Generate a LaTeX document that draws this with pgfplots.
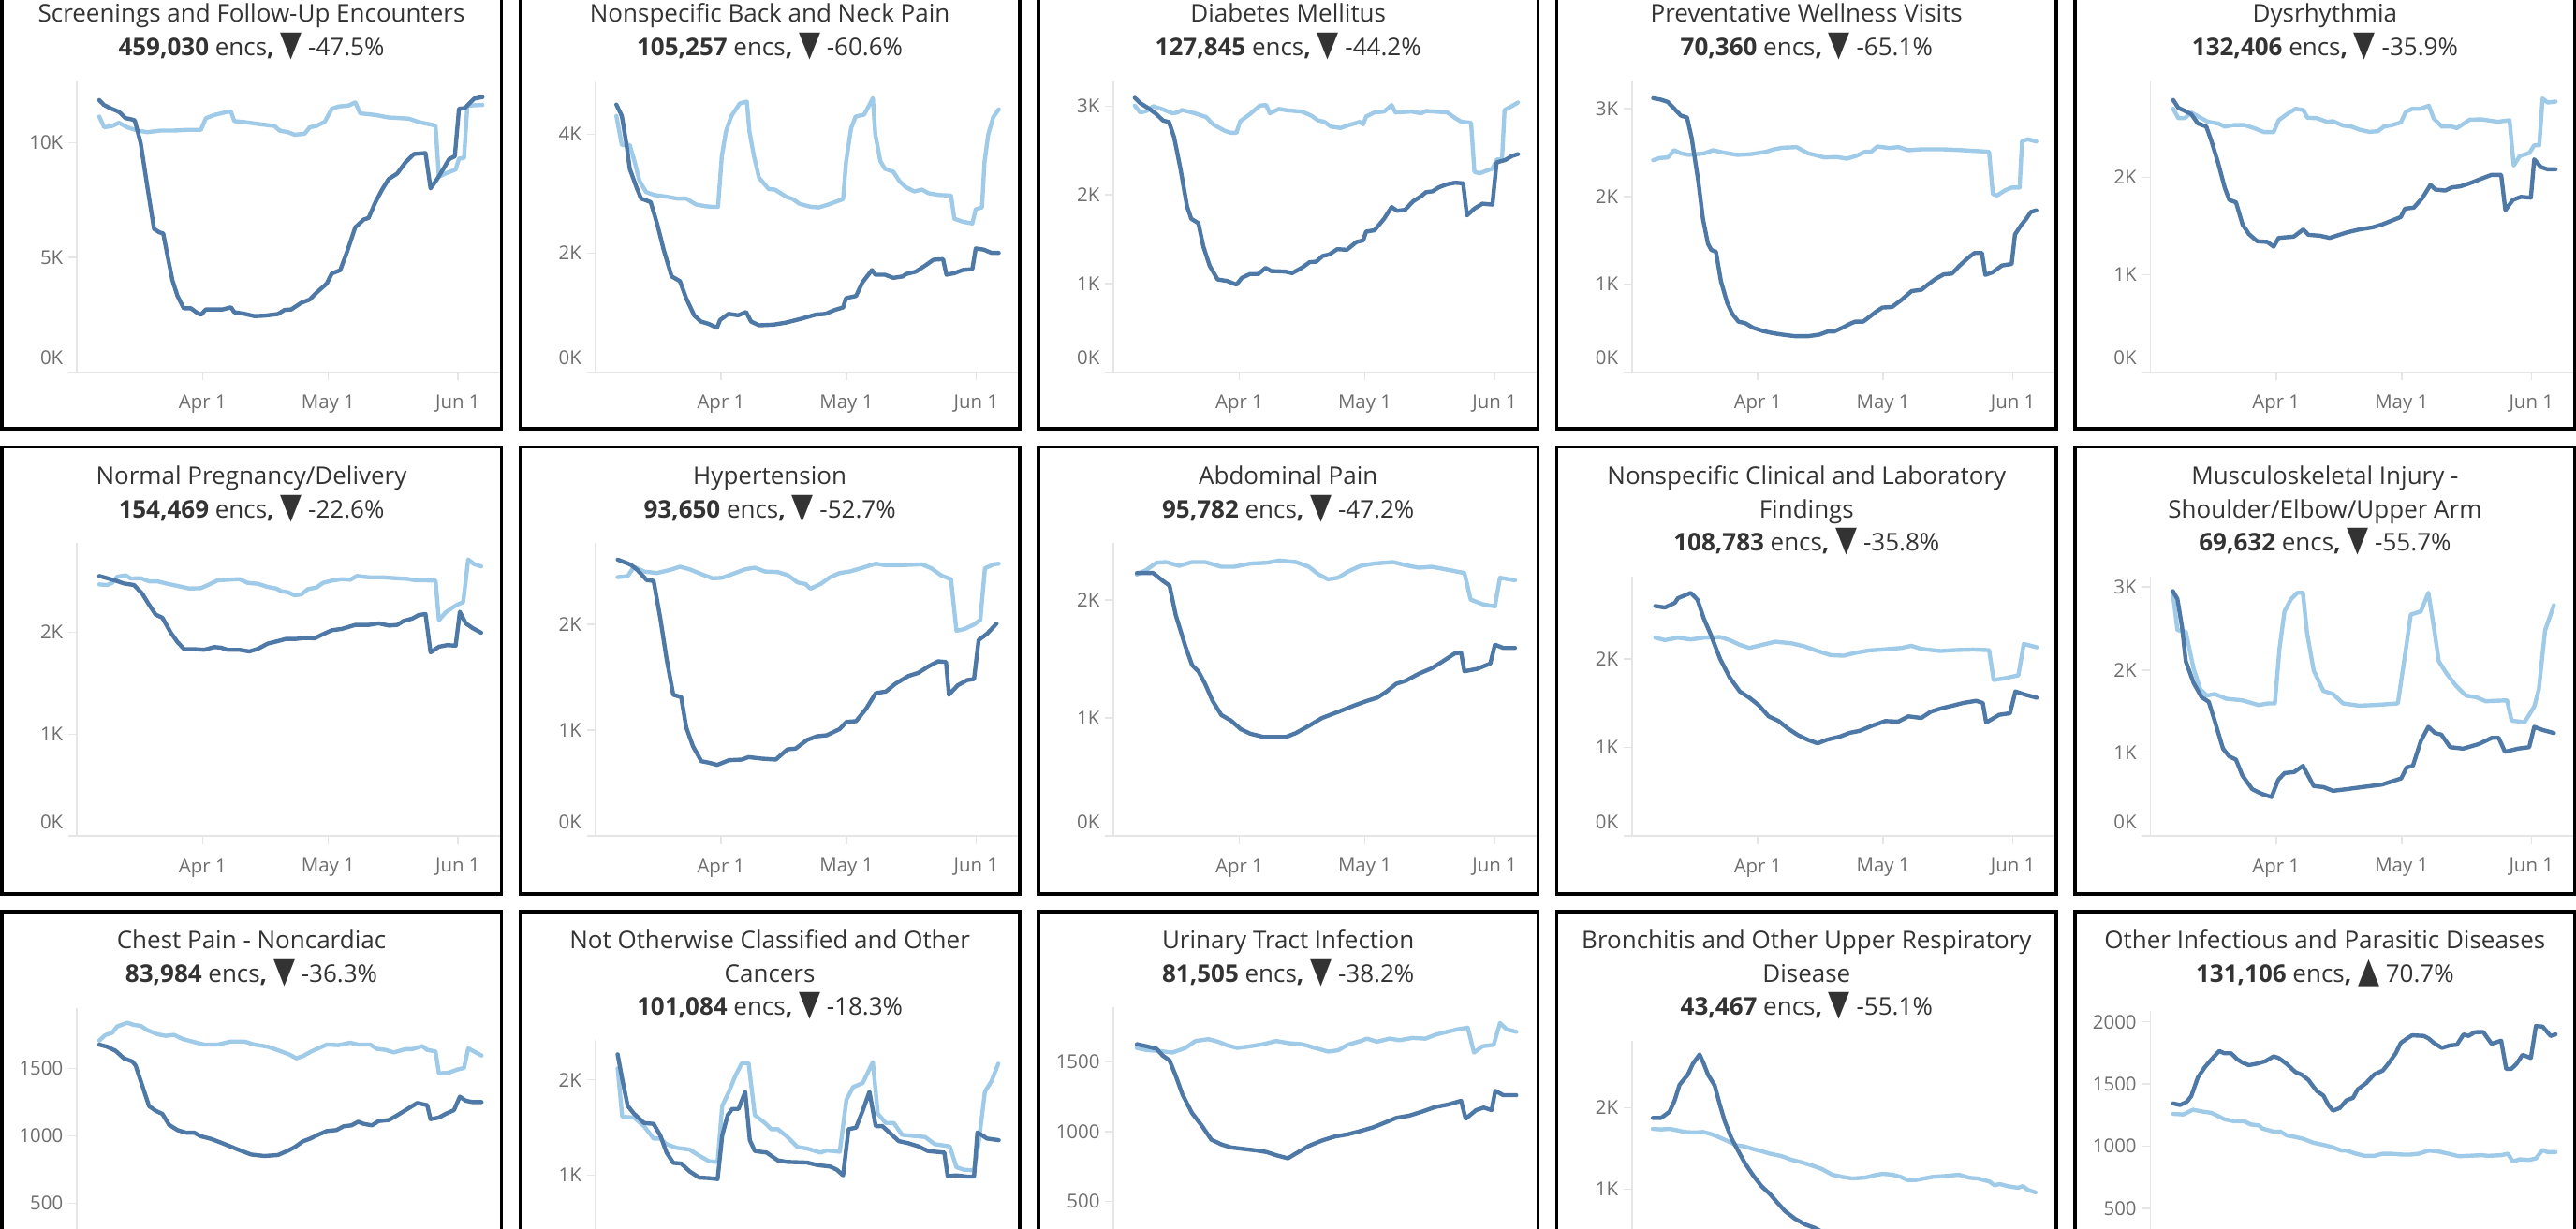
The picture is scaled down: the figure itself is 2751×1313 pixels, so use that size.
\documentclass[border=0pt]{standalone}
\usepackage{graphicx}
\usepackage{fontspec}
\setmainfont{Open Sans}
\newfontfamily\symfont{DejaVu Sans}
\usepackage{pgfplots}
\pgfplotsset{compat=1.18}
\definecolor{dk}{HTML}{4E79A7}
\definecolor{lt}{HTML}{A0CBE8}
\definecolor{axg}{HTML}{E6E6E6}
\definecolor{tkg}{HTML}{6E6E6E}
\definecolor{ttl}{HTML}{333333}
\newcommand\mydntri{\scalebox{1.15}[1.45]{\symfont ▼}}
\newcommand\myuptri{\scalebox{1.15}[1.45]{\symfont ▲}}
\newcommand\zk{\raisebox{3.75pt}[3.75pt][0pt]{0K}}
\newcommand\ttlfont{\fontsize{6.5}{7.8}\selectfont}
\pgfplotsset{panel/.style={scale only axis, width=112.875pt, xmin=-30.07, xmax=71, ymin=0,
  axis x line*=bottom, axis y line*=left,
  axis line style={draw=axg, line width=0.375pt, -},
  x axis line style={shorten <=-2.25pt},
  xtick={0,30,61}, xticklabels={Apr 1,May 1,Jun 1},
  major tick length=2.25pt, tick align=outside,
  tick style={draw=axg, line width=0.375pt},
  ticklabel style={font=\fontsize{5.1}{5.1}\selectfont, text=tkg, inner sep=0pt},
  xticklabel style={yshift=-3.6pt}, yticklabel style={xshift=-1.25pt},
  clip=false, anchor=south west,
  every axis plot/.append style={line width=1.1pt, line join=round, line cap=round, no markers}},
  lastrow/.style={xticklabels={}}}
\begin{document}
\begin{tikzpicture}[x=0.25pt,y=0.25pt]
\useasboundingbox (0,0) rectangle (2751,-1313);
\clip (0,0) rectangle (2751,-1313);
\foreach \cx in {0,553.6,1107.2,1660.8,2214.4}{
  \foreach \ry in {-21,475.7,972.3}{
    \draw[line width=0.875pt] ({\cx+1.75},{-(\ry)-1.75}) rectangle ({\cx+535.25},{-(\ry)-479.25});
  }}
% ---------- P1
\begin{axis}[panel, at={(20.5pt,-99.375pt)}, height=77.625pt, ymax=12.673, ytick={0,5,10}, yticklabels={\zk,5K,10K}]
\addplot[lt] coordinates {(-24.7,11.14)(-23.5,10.67)(-21.6,10.73)(-20,10.87)(-18,10.67)(-15.6,10.53)(-13.2,10.46)(-10,10.53)(-6.8,10.53)(-3.6,10.56)(-0.4,10.56)(0.8,11.07)(2.8,11.21)(6,11.35)(6.8,11.35)(7.6,10.94)(10,10.9)(14,10.8)(17.2,10.73)(18.4,10.53)(20.4,10.46)(22,10.35)(24.4,10.39)(25.6,10.67)(27.2,10.73)(29.2,10.91)(30.9,11.48)(32.5,11.58)(34.9,11.62)(36.5,11.76)(37.7,11.28)(41.3,11.21)(44.5,11.1)(49.3,11.05)(51.7,10.9)(54.9,10.78)(55.7,10.73)(56.5,8.52)(58.5,8.69)(60.5,8.83)(61.3,9.31)(62.5,9.33)(63.3,11.62)(66.9,11.65)};
\addplot[dk] coordinates {(-24.7,11.86)(-23.6,11.65)(-22,11.5)(-20,11.35)(-18.4,11.07)(-17.2,11.03)(-16.2,10.97)(-14.8,9.99)(-13.2,8.08)(-11.6,6.24)(-10.4,6.1)(-9.4,6.04)(-8.4,5.09)(-7.2,4.0)(-6,3.32)(-4.5,2.78)(-2.8,2.78)(-1.2,2.57)(-0.4,2.5)(0.8,2.73)(2.8,2.73)(4.8,2.73)(6.8,2.82)(7.6,2.61)(10,2.54)(12.4,2.44)(14.8,2.46)(18,2.53)(19.6,2.71)(21.2,2.73)(23.6,3.02)(25.6,3.16)(27.6,3.52)(29.7,3.86)(30.9,4.3)(32.9,4.44)(34.5,5.22)(36.5,6.31)(38.5,6.65)(39.7,6.72)(41.3,7.4)(42.9,7.95)(44.5,8.42)(46.5,8.65)(48.5,9.14)(50.5,9.51)(53.3,9.55)(54.5,8.01)(56.1,8.42)(57.7,8.9)(58.9,9.28)(60.3,9.41)(61.3,11.48)(62.7,11.51)(64.9,11.92)(66.9,11.99)};
\end{axis}
% ---------- P2
\begin{axis}[panel, at={(158.9pt,-99.375pt)}, height=77.625pt, ymax=4.890, ytick={0,2,4}, yticklabels={\zk,2K,4K}]
\addplot[lt] coordinates {(-25,4.31)(-23.7,3.82)(-21.8,3.82)(-20.6,3.53)(-19.5,3.22)(-17.9,3.03)(-16,2.98)(-12.9,2.95)(-10.6,2.92)(-8.3,2.92)(-6,2.82)(-3.6,2.79)(-2.1,2.78)(-0.7,2.78)(0.2,3.63)(1.2,4.05)(2.5,4.31)(4.5,4.52)(6.2,4.55)(6.8,4.05)(7.9,3.63)(9.1,3.27)(11.4,3.08)(12.9,3.07)(15.6,2.95)(17.2,2.91)(18.8,2.83)(21.5,2.78)(23.4,2.77)(25.7,2.82)(27.6,2.87)(29.2,2.91)(29.9,3.53)(31.1,4.1)(32.2,4.30)(34.2,4.33)(35.3,4.47)(36.3,4.61)(36.9,4.0)(38.1,3.55)(39.2,3.42)(41.2,3.37)(42.7,3.21)(44.2,3.11)(46.2,3.04)(48.1,3.07)(49.6,3.01)(52,2.98)(55,2.97)(55.8,2.58)(57.8,2.53)(60.1,2.50)(60.9,2.74)(62.4,2.77)(63,3.53)(63.9,4.0)(65.1,4.29)(66.4,4.42)};
\addplot[dk] coordinates {(-25,4.50)(-23.7,4.31)(-22.6,3.84)(-21.8,3.42)(-20.2,3.11)(-19.1,2.92)(-16.8,2.86)(-15.2,2.48)(-13.7,2.06)(-11.8,1.61)(-9.8,1.53)(-8.3,1.24)(-6.4,0.955)(-4.8,0.85)(-2.9,0.81)(-0.95,0.745)(-0.2,0.877)(1.8,0.98)(4.1,0.955)(6,1.01)(7.2,0.85)(9.1,0.787)(12.6,0.798)(15.7,0.835)(19.5,0.903)(22.6,0.966)(25,0.98)(27.2,1.045)(29.2,1.087)(29.9,1.244)(32.3,1.28)(33.8,1.507)(36.1,1.717)(36.9,1.638)(39.2,1.638)(41.2,1.585)(43.5,1.61)(44.2,1.648)(46.6,1.69)(48.9,1.795)(50.8,1.89)(53.1,1.90)(53.9,1.638)(55.8,1.664)(57.8,1.717)(60.1,1.732)(60.9,2.08)(62.8,2.06)(64.7,2.005)(66.4,2.005)};
\end{axis}
% ---------- P3
\begin{axis}[panel, at={(297.3pt,-99.375pt)}, height=77.625pt, ymax=3.280, ytick={0,1,2,3}, yticklabels={\zk,1K,2K,3K}]
\addplot[lt] coordinates {(-25,3.007)(-23.7,2.93)(-22.2,2.947)(-20.6,3.0)(-18.3,2.965)(-16,2.92)(-14.8,2.93)(-13.7,2.958)(-10.6,2.92)(-7.9,2.877)(-6.3,2.796)(-3.6,2.725)(-2.1,2.70)(-0.7,2.70)(0.2,2.83)(2.5,2.91)(4.9,3.007)(6.4,3.014)(7.3,2.92)(9.5,2.97)(11.4,2.954)(14.9,2.94)(17.2,2.894)(18.8,2.84)(20.3,2.824)(21.9,2.77)(24.2,2.754)(25.7,2.78)(27.6,2.806)(28.8,2.824)(29.6,2.796)(30.3,2.884)(32.3,2.93)(34.6,2.94)(36.4,3.014)(37.3,2.93)(41.2,2.94)(43.5,2.92)(44.6,2.947)(49.7,2.93)(51.6,2.866)(53.1,2.824)(55.4,2.813)(56.2,2.26)(57.4,2.243)(60.5,2.296)(61.6,2.40)(62.8,2.40)(63.4,2.958)(65.1,3.0)(66.6,3.042)};
\addplot[dk] coordinates {(-25,3.095)(-23.7,3.035)(-21.8,2.98)(-19.8,2.91)(-18.3,2.84)(-16.8,2.82)(-15.6,2.65)(-14.1,2.30)(-12.5,1.87)(-11.5,1.73)(-9.8,1.68)(-8.6,1.415)(-7.1,1.20)(-5.2,1.045)(-2.9,1.028)(-0.7,0.986)(0.6,1.063)(2.5,1.106)(4.5,1.106)(6.3,1.176)(7.6,1.14)(11,1.134)(12.6,1.116)(14.9,1.176)(16.8,1.24)(18.4,1.246)(19.9,1.31)(21.5,1.327)(23.4,1.387)(25.7,1.38)(28,1.468)(29.6,1.486)(30.3,1.585)(32.3,1.60)(34.6,1.73)(36.4,1.863)(37.7,1.82)(39.6,1.83)(41.5,1.926)(43.5,1.986)(44.6,2.03)(46.2,2.04)(47.7,2.085)(49.7,2.12)(51.6,2.137)(53.5,2.13)(54.4,1.768)(56.2,1.845)(58.1,1.90)(60.5,1.89)(61.5,2.366)(63.6,2.394)(65.1,2.437)(66.6,2.46)};
\end{axis}
% ---------- P4
\begin{axis}[panel, at={(435.7pt,-99.375pt)}, height=77.625pt, ymax=3.308, ytick={0,1,2,3}, yticklabels={\zk,1K,2K,3K}]
\addplot[lt] coordinates {(-25,2.411)(-23.5,2.436)(-21.5,2.443)(-20,2.525)(-18.4,2.49)(-16.5,2.472)(-15,2.479)(-12.7,2.49)(-10.7,2.525)(-8,2.496)(-4.9,2.472)(-1.9,2.479)(2,2.507)(3.6,2.532)(5.9,2.553)(9.3,2.56)(12,2.49)(13.6,2.472)(15.9,2.443)(19,2.447)(21.3,2.429)(23.6,2.461)(25.6,2.507)(27.1,2.507)(28.6,2.567)(31.4,2.55)(33.7,2.56)(36,2.525)(39.1,2.535)(44.5,2.535)(49.1,2.525)(53,2.514)(55.3,2.507)(56.2,2.028)(57.2,2.01)(59.2,2.07)(60.7,2.10)(62.6,2.10)(63.2,2.63)(64.6,2.649)(66.6,2.624)};
\addplot[dk] coordinates {(-25,3.117)(-23.1,3.10)(-21.5,3.074)(-20,3.0)(-18.4,2.92)(-16.9,2.897)(-15.8,2.667)(-14.2,2.17)(-13.1,1.745)(-11.9,1.46)(-11.1,1.39)(-10,1.37)(-8.8,1.035)(-7.3,0.787)(-6.1,0.663)(-4.6,0.574)(-3,0.557)(-1.1,0.504)(1.2,0.468)(3.6,0.443)(5.9,0.426)(9,0.408)(12,0.408)(14.7,0.426)(16.7,0.461)(18.2,0.461)(20.2,0.504)(22.1,0.55)(23.3,0.574)(25.2,0.574)(26.7,0.628)(28.3,0.688)(29.8,0.734)(32.1,0.741)(34.4,0.823)(36.8,0.922)(39.1,0.936)(40.6,0.993)(42.5,1.06)(44.5,1.113)(46.4,1.12)(48.3,1.213)(50.3,1.30)(51.8,1.355)(53.6,1.355)(54.4,1.106)(56.1,1.135)(58.4,1.213)(60.7,1.23)(61.5,1.567)(63,1.674)(64.2,1.745)(65.3,1.823)(66.6,1.84)};
\end{axis}
% ---------- P5
\begin{axis}[panel, at={(574.1pt,-99.375pt)}, height=77.625pt, ymax=2.986, ytick={0,1,2}, yticklabels={\zk,1K,2K}]
\addplot[lt] coordinates {(-24.6,2.705)(-23.4,2.609)(-21.8,2.609)(-20.3,2.667)(-17.9,2.609)(-16.3,2.571)(-13.9,2.554)(-12.3,2.522)(-10,2.538)(-7.6,2.538)(-5.3,2.506)(-2.9,2.465)(-0.6,2.465)(0.6,2.587)(2.6,2.65)(4.6,2.705)(6.5,2.692)(7.5,2.612)(9.7,2.609)(12.1,2.571)(13.6,2.577)(16,2.532)(18,2.522)(19.9,2.49)(22.3,2.468)(24.3,2.474)(25.8,2.522)(27.8,2.538)(29.8,2.564)(31,2.673)(32.5,2.705)(34.5,2.705)(36.5,2.737)(37.7,2.603)(39.6,2.522)(42,2.522)(43.2,2.506)(46.3,2.593)(49.1,2.596)(53,2.571)(55.8,2.587)(56.8,2.122)(58.2,2.218)(60.5,2.25)(61.7,2.33)(62.9,2.33)(63.7,2.811)(64.9,2.769)(66.8,2.779)};
\addplot[dk] coordinates {(-24.6,2.795)(-23.4,2.715)(-21.8,2.683)(-20.3,2.65)(-18.7,2.554)(-16.7,2.522)(-15.5,2.378)(-13.9,2.154)(-12.3,1.897)(-11.2,1.769)(-9.6,1.744)(-8,1.513)(-6.5,1.417)(-4.5,1.343)(-2.1,1.337)(-0.6,1.288)(0.6,1.378)(4.2,1.391)(6.5,1.465)(7.7,1.41)(10.5,1.40)(12.8,1.378)(16.8,1.433)(19.9,1.465)(23.1,1.487)(25.5,1.519)(27,1.545)(29.8,1.593)(30.8,1.679)(32.9,1.689)(34.9,1.785)(36.9,1.923)(38.1,1.875)(40.4,1.865)(42,1.897)(44,1.907)(46.7,1.946)(49.1,1.987)(51.5,2.026)(53.8,2.026)(54.8,1.663)(56.6,1.769)(58.5,1.80)(60.9,1.792)(61.7,2.186)(63.3,2.106)(64.9,2.083)(66.8,2.083)};
\end{axis}
% ---------- P6
\begin{axis}[panel, at={(20.5pt,-223.3pt)}, height=78.25pt, ymax=2.877, ytick={0,1,2}, yticklabels={\zk,1K,2K}]
\addplot[lt] coordinates {(-24.7,2.471)(-22.8,2.465)(-21.6,2.486)(-20.4,2.547)(-18.4,2.56)(-17.2,2.529)(-14.8,2.532)(-12.8,2.501)(-10.8,2.501)(-8.4,2.477)(-6,2.456)(-3.2,2.431)(-0.4,2.434)(1.6,2.471)(3.6,2.511)(6,2.517)(8.8,2.523)(10.8,2.486)(13.2,2.477)(15.6,2.446)(17.6,2.431)(18.8,2.404)(20.4,2.394)(22,2.364)(23.6,2.373)(25.2,2.425)(27.2,2.44)(28.8,2.486)(30.9,2.508)(33.3,2.523)(35.3,2.517)(36.9,2.554)(39.7,2.541)(42.9,2.541)(46.1,2.532)(48.9,2.526)(50.9,2.511)(53.3,2.511)(55.7,2.508)(56.5,2.119)(58.1,2.196)(59.7,2.242)(60.9,2.272)(62.3,2.297)(63.5,2.716)(64.9,2.67)(66.6,2.648)};
\addplot[dk] coordinates {(-24.7,2.554)(-22.8,2.532)(-20.8,2.508)(-18.8,2.48)(-16.4,2.465)(-14.4,2.379)(-12.8,2.272)(-11.2,2.174)(-9.6,2.144)(-7.6,1.997)(-6,1.905)(-4.4,1.835)(-2,1.835)(0.4,1.829)(2.8,1.856)(4.4,1.85)(6,1.829)(8.8,1.829)(11.2,1.813)(13.2,1.838)(15.6,1.89)(18,1.914)(20,1.936)(22.4,1.936)(24.4,1.945)(26.8,1.942)(28.8,1.982)(30.9,2.021)(33.3,2.034)(36.5,2.073)(39.7,2.073)(42.1,2.089)(44.5,2.067)(46.5,2.073)(48.1,2.113)(50.1,2.135)(51.7,2.171)(53.3,2.18)(54.5,1.804)(56.5,1.859)(58.5,1.875)(60.5,1.869)(61.5,2.202)(62.9,2.089)(64.5,2.043)(66.6,1.997)};
\end{axis}
% ---------- P7
\begin{axis}[panel, at={(158.9pt,-223.3pt)}, height=78.25pt, ymax=2.770, ytick={0,1,2}, yticklabels={\zk,1K,2K}]
\addplot[lt] coordinates {(-24.7,2.448)(-22.3,2.457)(-20.8,2.546)(-18.4,2.501)(-15.3,2.487)(-12.2,2.516)(-9.8,2.546)(-7.5,2.522)(-4.4,2.472)(-2,2.437)(0.3,2.442)(3.4,2.487)(5.8,2.522)(8.1,2.537)(10.5,2.501)(13.6,2.496)(16,2.466)(18.3,2.398)(20.2,2.383)(21.4,2.339)(23.8,2.383)(26.1,2.448)(28.4,2.487)(30.8,2.501)(33.9,2.537)(37,2.575)(39.4,2.56)(42.5,2.56)(48,2.569)(50.3,2.531)(52.7,2.463)(55,2.428)(56.3,1.941)(58.1,1.956)(60.5,2.0)(62,2.044)(63.1,2.531)(65.2,2.569)(66.4,2.575)};
\addplot[dk] coordinates {(-24.7,2.614)(-21.6,2.566)(-20,2.516)(-17.7,2.419)(-16.1,2.413)(-14.5,2.059)(-13,1.676)(-11.4,1.336)(-9.5,1.313)(-8.3,1.027)(-6.7,0.85)(-4.7,0.708)(-2.8,0.693)(-0.9,0.673)(1.9,0.717)(5,0.723)(6.6,0.746)(9.7,0.732)(13.1,0.723)(15.9,0.82)(17.8,0.826)(20.6,0.909)(23,0.944)(25.3,0.953)(28.4,1.012)(30,1.08)(32.3,1.086)(34.7,1.204)(37,1.351)(39.4,1.366)(41.7,1.44)(44.8,1.513)(47.2,1.543)(49.5,1.602)(51.9,1.652)(53.8,1.646)(54.5,1.336)(56.6,1.425)(58.9,1.475)(60.5,1.484)(61.6,1.853)(63.6,1.912)(65.9,2.009)};
\end{axis}
% ---------- P8
\begin{axis}[panel, at={(297.3pt,-223.3pt)}, height=78.25pt, ymax=2.484, ytick={0,1,2}, yticklabels={\zk,1K,2K}]
\addplot[lt] coordinates {(-24.5,2.217)(-22.2,2.257)(-19.8,2.317)(-17.5,2.323)(-14.4,2.291)(-11.3,2.323)(-8.2,2.323)(-4.3,2.283)(-1.2,2.283)(2.6,2.31)(6.5,2.317)(9.6,2.336)(13.5,2.323)(16.6,2.283)(19,2.217)(21.2,2.177)(23.6,2.19)(26,2.243)(29,2.291)(32.1,2.31)(36.7,2.323)(39.8,2.296)(42.9,2.275)(46,2.283)(49.9,2.257)(53.8,2.23)(55.3,2.005)(58.1,1.966)(61.1,1.947)(62.3,2.19)(65.9,2.169)};
\addplot[dk] coordinates {(-24.5,2.23)(-20.6,2.23)(-18.3,2.164)(-16.7,2.124)(-15.2,1.873)(-12.9,1.608)(-11.3,1.45)(-9.8,1.397)(-8.2,1.291)(-6.4,1.146)(-4.3,1.026)(-2,0.979)(0.3,0.907)(2.6,0.868)(5.7,0.841)(11.2,0.841)(13.5,0.873)(16.6,0.934)(19.7,1.0)(23.6,1.053)(27.4,1.106)(30.5,1.146)(32.9,1.172)(35.2,1.225)(37.5,1.291)(39.8,1.317)(42.9,1.376)(46,1.423)(48.4,1.476)(51.5,1.548)(53,1.556)(53.8,1.397)(56.9,1.418)(60,1.463)(61.1,1.622)(63.1,1.595)(65.9,1.595)};
\end{axis}
% ---------- P9
\begin{axis}[panel, at={(435.7pt,-223.3pt)}, height=69.225pt, ymax=2.925, ytick={0,1,2}, yticklabels={\zk,1K,2K}]
\addplot[lt] coordinates {(-24.5,2.239)(-22.2,2.211)(-19.1,2.239)(-16,2.218)(-12.9,2.239)(-9,2.246)(-6.7,2.211)(-4.3,2.158)(-2,2.123)(1.1,2.158)(4.2,2.193)(8.1,2.175)(11.2,2.14)(14.3,2.088)(17.4,2.042)(20.5,2.035)(23.6,2.07)(26.7,2.095)(29.8,2.105)(34.4,2.123)(36.7,2.147)(39.1,2.112)(43.7,2.088)(46.8,2.098)(51.5,2.105)(55.3,2.098)(56.4,1.761)(59.2,1.782)(62.3,1.814)(63.6,2.168)(66.7,2.13)};
\addplot[dk] coordinates {(-24.5,2.596)(-22.2,2.579)(-19.8,2.632)(-19.1,2.684)(-16,2.744)(-14.4,2.667)(-12.9,2.456)(-11.3,2.281)(-9,2.0)(-6.7,1.789)(-4.3,1.632)(-2,1.561)(0.3,1.474)(2.6,1.351)(5,1.298)(7.3,1.211)(9.6,1.14)(11.9,1.088)(14.3,1.046)(16.6,1.088)(19.7,1.123)(22,1.165)(24.3,1.186)(27.4,1.246)(30.5,1.298)(33.6,1.291)(36,1.351)(39.1,1.333)(41.4,1.404)(43.7,1.439)(46.8,1.474)(49.1,1.502)(52.2,1.526)(53.8,1.502)(54.6,1.281)(57.7,1.368)(60.3,1.386)(61.6,1.632)(63.9,1.596)(66.7,1.561)};
\end{axis}
% ---------- P10
\begin{axis}[panel, at={(574.1pt,-223.3pt)}, height=69.225pt, ymax=3.123, ytick={0,1,2,3}, yticklabels={\zk,1K,2K,3K}]
\addplot[lt] coordinates {(-24.7,2.932)(-23.6,2.481)(-21.6,2.462)(-19.7,2.011)(-18.1,1.767)(-16.6,1.692)(-14.7,1.711)(-11.9,1.654)(-8.1,1.635)(-4.2,1.579)(-1.9,1.598)(-0.3,1.598)(0.8,2.256)(2,2.707)(3.6,2.857)(5.1,2.932)(6.4,2.932)(7.4,2.444)(9,1.992)(11.3,1.748)(13.6,1.711)(16,1.598)(19.8,1.571)(23.7,1.579)(29.1,1.598)(30.7,2.143)(32.2,2.669)(34.6,2.707)(36.4,2.932)(37.7,2.519)(38.9,2.105)(40.8,1.955)(43.1,1.805)(45.4,1.692)(47.8,1.673)(50.1,1.624)(55.2,1.635)(56.3,1.391)(59.4,1.372)(61.7,1.56)(62.8,1.767)(64.3,2.481)(66.4,2.782)};
\addplot[dk] coordinates {(-24.7,2.951)(-23.6,2.857)(-22.5,2.519)(-21.6,2.105)(-19.7,1.842)(-17.8,1.673)(-16.1,1.617)(-14.7,1.391)(-12.7,1.053)(-11.2,0.959)(-9.6,0.921)(-8.1,0.733)(-5.7,0.564)(-3.4,0.508)(-1.1,0.47)(0.5,0.677)(2,0.759)(4.3,0.771)(6.4,0.846)(9,0.602)(11.3,0.59)(13.6,0.545)(16.7,0.564)(20.6,0.59)(25.3,0.62)(27.6,0.658)(29.9,0.695)(31.2,0.827)(32.7,0.846)(34.6,1.147)(36.4,1.316)(38,1.241)(39.5,1.222)(41.6,1.071)(44.7,1.053)(48.5,1.109)(51.6,1.184)(53.2,1.184)(54.7,1.015)(57.8,1.053)(60.5,1.071)(61.7,1.316)(63.7,1.278)(66.4,1.241)};
\end{axis}
% ---------- P11
\begin{axis}[panel, lastrow, at={(20.5pt,-339.425pt)}, height=70.25pt, ymax=1951, ytick={500,1000,1500}, yticklabels={500,1000,1500}]
\addplot[lt] coordinates {(-24.7,1708)(-23.3,1748)(-21.6,1766)(-20.4,1813)(-18,1840)(-16.4,1824)(-14.8,1817)(-13.2,1785)(-10.8,1755)(-8.8,1743)(-6.8,1750)(-4.8,1720)(-2,1697)(0.4,1678)(3.6,1678)(6.8,1701)(10,1701)(12.4,1678)(15.6,1662)(18.4,1632)(20.8,1604)(22.4,1576)(24,1593)(26,1627)(28,1655)(29.7,1678)(32.5,1674)(35.3,1692)(37.2,1678)(40.1,1678)(41.7,1646)(43.7,1639)(45.7,1620)(48.5,1644)(50.1,1644)(52.5,1667)(53.7,1639)(55.7,1627)(56.5,1465)(58.9,1470)(60.9,1493)(62.5,1505)(63.5,1650)(64.9,1627)(66.7,1597)};
\addplot[dk] coordinates {(-24.7,1678)(-22.8,1662)(-20.8,1632)(-18.8,1576)(-16.8,1553)(-16,1523)(-14.4,1373)(-12.8,1222)(-11.2,1187)(-9.6,1164)(-8,1083)(-6,1044)(-4,1025)(-2,1025)(-0.4,998)(2,979)(4.4,951)(6.8,921)(9.2,891)(11.6,863)(14.8,852)(18,859)(20.4,891)(22,917)(24,961)(25.6,979)(27.6,1009)(29.7,1037)(32,1044)(33.7,1072)(35.6,1079)(37.2,1106)(38.5,1090)(40.5,1079)(42.1,1111)(44.5,1118)(46.5,1153)(48.9,1199)(51.3,1245)(53.7,1229)(54.5,1125)(56.5,1137)(58.1,1164)(60.1,1192)(61.5,1292)(62.9,1262)(64.5,1252)(66.7,1252)};
\end{axis}
% ---------- P12
\begin{axis}[panel, lastrow, at={(158.9pt,-339.425pt)}, height=61.6pt, ymax=2.416, ytick={1,2}, yticklabels={1K,2K}]
\addplot[lt] coordinates {(-24.7,2.121)(-23.6,1.614)(-20.8,1.605)(-18.4,1.516)(-16.1,1.386)(-14.5,1.386)(-13,1.327)(-10.6,1.288)(-7.5,1.271)(-5.2,1.206)(-2.8,1.147)(-0.8,1.141)(0.3,1.729)(1.9,1.876)(3.4,2.039)(5,2.176)(6.6,2.176)(8.1,1.631)(10.5,1.549)(12,1.484)(13.6,1.484)(15.9,1.402)(18.3,1.297)(20.6,1.281)(23.8,1.239)(25.3,1.261)(28.4,1.248)(30,1.794)(31.6,1.925)(33.9,1.967)(36.3,2.186)(37.5,1.647)(39.4,1.549)(41.3,1.549)(43.3,1.425)(46.4,1.412)(48.8,1.402)(51.1,1.327)(54.7,1.304)(56.3,1.085)(58.1,1.059)(60.5,1.052)(61.6,1.337)(63.1,1.876)(64.7,1.99)(66.3,2.17)};
\addplot[dk] coordinates {(-24.7,2.268)(-23.6,2.007)(-22.3,1.729)(-20.8,1.647)(-18.4,1.549)(-16.1,1.539)(-14.5,1.418)(-13,1.239)(-11.4,1.131)(-9.5,1.124)(-7.5,1.042)(-5.2,0.977)(-2.8,0.971)(-0.8,0.961)(0.3,1.418)(1.6,1.631)(2.7,1.696)(4.2,1.696)(5.8,1.876)(6.9,1.369)(8.1,1.255)(10.9,1.239)(13.6,1.157)(15.9,1.141)(20.6,1.134)(23,1.108)(26.1,1.092)(27.7,1.059)(29.2,1.0)(30.5,1.484)(32.3,1.5)(33.9,1.68)(35.5,1.876)(37,1.516)(38.6,1.516)(40.2,1.451)(42.5,1.359)(44.8,1.337)(47.2,1.304)(49.5,1.255)(51.9,1.245)(53.4,1.239)(54.2,0.993)(56.3,1.0)(58.9,0.987)(60.5,0.987)(61.3,1.451)(63.6,1.386)(66.4,1.369)};
\end{axis}
% ---------- P13
\begin{axis}[panel, lastrow, at={(297.3pt,-339.425pt)}, height=70.35pt, ymax=1891, ytick={500,1000,1500}, yticklabels={500,1000,1500}]
\addplot[lt] coordinates {(-24.5,1600)(-22.2,1585)(-19.1,1578)(-16,1567)(-12.9,1600)(-10.5,1650)(-7.4,1663)(-5.1,1645)(-2.8,1618)(-0.5,1600)(2.6,1612)(5.7,1627)(8.8,1650)(11.9,1634)(15,1627)(18.1,1600)(21.2,1574)(23.6,1583)(25.9,1623)(29,1650)(30.5,1667)(32.9,1645)(35.9,1667)(38.3,1656)(41.4,1672)(44.5,1667)(46.8,1694)(49.1,1712)(52.2,1734)(54.6,1746)(56.1,1567)(58.1,1612)(60.8,1623)(62.3,1779)(63.9,1734)(66.2,1716)};
\addplot[dk] coordinates {(-24.5,1627)(-22.2,1612)(-19.8,1594)(-18.3,1545)(-16.7,1511)(-15.2,1400)(-13.6,1266)(-11.3,1132)(-9,1043)(-6.7,942)(-4.3,908)(-2,886)(1.1,875)(4.2,864)(6.5,853)(8.8,830)(11.6,808)(13.5,842)(16.6,897)(19.7,935)(22.8,964)(25.9,980)(29,1004)(32.1,1031)(35.2,1069)(37.5,1098)(40.6,1114)(43.7,1143)(46.8,1176)(49.9,1194)(53,1221)(54.1,1092)(56.6,1154)(58.4,1172)(60.3,1154)(61.2,1292)(63.1,1261)(66.2,1261)};
\end{axis}
% ---------- P14
\begin{axis}[panel, lastrow, at={(435.7pt,-339.425pt)}, height=61.5pt, ymax=2.824, ytick={1,2}, yticklabels={1K,2K}]
\addplot[lt] coordinates {(-25.1,1.741)(-23.1,1.734)(-21.1,1.741)(-19.1,1.722)(-17.5,1.703)(-15.1,1.696)(-13.1,1.703)(-11.1,1.677)(-9.1,1.635)(-7.1,1.589)(-5.1,1.54)(-3.1,1.525)(-1.1,1.494)(0.9,1.468)(2.9,1.437)(5.7,1.407)(8.1,1.361)(10.5,1.331)(12.9,1.293)(15.4,1.247)(17.8,1.179)(20.2,1.152)(22.6,1.133)(25.8,1.144)(27.8,1.171)(29.8,1.19)(32.2,1.179)(34.2,1.152)(35.8,1.114)(37.8,1.114)(39.8,1.133)(41.8,1.152)(45,1.163)(48.1,1.179)(50.6,1.141)(52.6,1.133)(55.4,1.095)(56.6,1.049)(57.8,1.065)(59.8,1.038)(62.2,1.019)(63.4,1.038)(64.6,0.992)(66.4,0.962)};
\addplot[dk] coordinates {(-25.1,1.875)(-23.1,1.875)(-21.1,1.951)(-19.9,2.084)(-18.7,2.281)(-16.7,2.407)(-15.5,2.54)(-13.9,2.654)(-12.9,2.54)(-11.9,2.407)(-10.3,2.274)(-9.1,2.046)(-7.9,1.837)(-6.3,1.627)(-4.7,1.475)(-3.1,1.323)(-1.1,1.171)(0.9,1.038)(2.9,0.943)(4.5,0.848)(6.5,0.734)(8.9,0.639)(11.3,0.57)(13.7,0.525)(16,0.46)(20,0.42)(28,0.40)(40,0.42)(55,0.44)(66.4,0.45)};
\end{axis}
% ---------- P15
\begin{axis}[panel, lastrow, at={(574.1pt,-339.425pt)}, height=69.425pt, ymax=2088, ytick={500,1000,1500,2000}, yticklabels={500,1000,1500,2000}]
\addplot[lt] coordinates {(-24.6,1261)(-22.2,1256)(-19.9,1294)(-17.9,1281)(-15.5,1269)(-13.9,1244)(-12.4,1218)(-10,1201)(-7.6,1201)(-6.1,1176)(-4.1,1168)(-3.3,1143)(-0.6,1118)(1,1118)(2.6,1087)(4.6,1075)(6.5,1060)(8.9,1029)(11.3,1012)(13.6,992)(15.6,966)(16.8,966)(19.1,941)(21.1,924)(23.5,924)(25.5,941)(27.4,941)(30.2,934)(32.2,934)(34.1,941)(36.5,966)(38.8,959)(41.2,941)(43.6,921)(46,924)(49.1,929)(50.7,924)(53.8,929)(55.4,941)(56.6,878)(58.2,896)(60.5,891)(62.1,903)(63.7,971)(64.9,954)(66.8,954)};
\addplot[dk] coordinates {(-24.6,1345)(-23,1332)(-21.4,1357)(-20.3,1403)(-18.7,1554)(-17.1,1634)(-15.5,1697)(-13.6,1766)(-12.4,1748)(-10.8,1748)(-9.2,1697)(-8,1672)(-6.5,1652)(-4.5,1665)(-2.5,1685)(-0.6,1723)(0.6,1710)(2.6,1660)(4.6,1597)(6.1,1576)(7.7,1534)(9.7,1445)(11.3,1408)(12.5,1332)(13.6,1287)(15.2,1307)(16.8,1370)(18.4,1390)(19.5,1458)(21.5,1508)(23.5,1579)(25.5,1609)(27,1672)(28.6,1748)(29.8,1831)(31.4,1869)(32.5,1892)(35.3,1887)(36.5,1866)(37.7,1831)(39.6,1791)(41.6,1811)(43.2,1816)(44.8,1899)(46,1887)(47.5,1917)(49.5,1919)(51.5,1824)(53.8,1849)(55,1622)(56.2,1622)(57.4,1660)(58.9,1735)(60.9,1710)(62.1,1967)(63.7,1962)(65.6,1887)(66.8,1899)};
\end{axis}
% ---------- titles
\begin{scope}[every node/.style={anchor=base, text=ttl, font=\ttlfont, inner sep=0pt}]
\node at (268.5,-23.3) {Screenings and Follow-Up Encounters};
\node at (268.5,-59.3) {{\bfseries 459,030} encs{\bfseries,} \mydntri{} -47.5\%};
\node at (822.1,-23.3) {Nonspecific Back and Neck Pain};
\node at (822.1,-59.3) {{\bfseries 105,257} encs{\bfseries,} \mydntri{} -60.6\%};
\node at (1375.7,-23.3) {Diabetes Mellitus};
\node at (1375.7,-59.3) {{\bfseries 127,845} encs{\bfseries,} \mydntri{} -44.2\%};
\node at (1929.3,-23.3) {Preventative Wellness Visits};
\node at (1929.3,-59.3) {{\bfseries 70,360} encs{\bfseries,} \mydntri{} -65.1\%};
\node at (2482.9,-23.3) {Dysrhythmia};
\node at (2482.9,-59.3) {{\bfseries 132,406} encs{\bfseries,} \mydntri{} -35.9\%};
\node at (268.5,-518) {Normal Pregnancy/Delivery};
\node at (268.5,-554) {{\bfseries 154,469} encs{\bfseries,} \mydntri{} -22.6\%};
\node at (822.1,-518) {Hypertension};
\node at (822.1,-554) {{\bfseries 93,650} encs{\bfseries,} \mydntri{} -52.7\%};
\node at (1375.7,-518) {Abdominal Pain};
\node at (1375.7,-554) {{\bfseries 95,782} encs{\bfseries,} \mydntri{} -47.2\%};
\node at (1929.3,-518) {Nonspecific Clinical and Laboratory};
\node at (1929.3,-553.7) {Findings};
\node at (1929.3,-589) {{\bfseries 108,783} encs{\bfseries,} \mydntri{} -35.8\%};
\node at (2482.9,-518) {Musculoskeletal Injury -};
\node at (2482.9,-553.7) {Shoulder/Elbow/Upper Arm};
\node at (2482.9,-589) {{\bfseries 69,632} encs{\bfseries,} \mydntri{} -55.7\%};
\node at (268.5,-1013.3) {Chest Pain - Noncardiac};
\node at (268.5,-1049.3) {{\bfseries 83,984} encs{\bfseries,} \mydntri{} -36.3\%};
\node at (822.1,-1013.3) {Not Otherwise Classified and Other};
\node at (822.1,-1049.3) {Cancers};
\node at (822.1,-1085) {{\bfseries 101,084} encs{\bfseries,} \mydntri{} -18.3\%};
\node at (1375.7,-1013.3) {Urinary Tract Infection};
\node at (1375.7,-1049.3) {{\bfseries 81,505} encs{\bfseries,} \mydntri{} -38.2\%};
\node at (1929.3,-1013.3) {Bronchitis and Other Upper Respiratory};
\node at (1929.3,-1049.3) {Disease};
\node at (1929.3,-1085) {{\bfseries 43,467} encs{\bfseries,} \mydntri{} -55.1\%};
\node at (2482.9,-1013.3) {Other Infectious and Parasitic Diseases};
\node at (2482.9,-1049.3) {{\bfseries 131,106} encs{\bfseries,} \myuptri{} 70.7\%};
\end{scope}
\end{tikzpicture}
\end{document}
